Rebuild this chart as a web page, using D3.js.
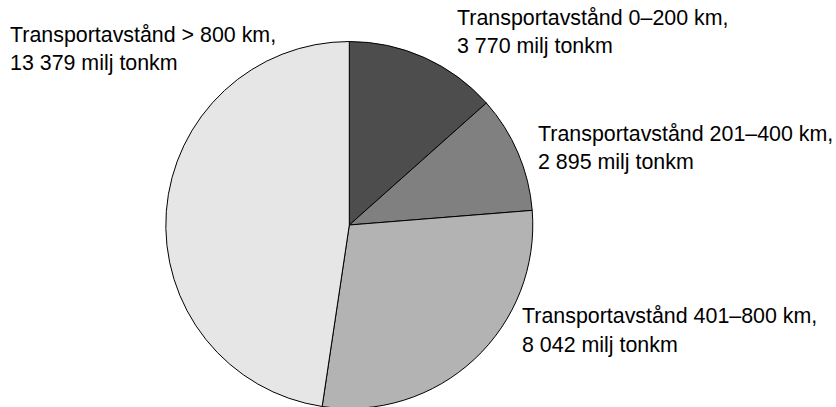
<!DOCTYPE html>
<html>
<head>
<meta charset="utf-8">
<script src="https://cdn.jsdelivr.net/npm/d3@7"></script>
<style>
  html, body { margin: 0; padding: 0; background: #fff; }
  svg { display: block; }
  text { font-family: "Liberation Sans", Arial, sans-serif; font-size: 21.4px; fill: #000; }
</style>
</head>
<body>
<svg id="chart" width="836" height="407"></svg>
<script>
const categories = ["Transportavstånd 0–200 km,", "Transportavstånd 201–400 km,", "Transportavstånd 401–800 km,", "Transportavstånd > 800 km,"];
const values = [3770, 2895, 8042, 13379];
const valueLabels = ["3 770 milj tonkm", "2 895 milj tonkm", "8 042 milj tonkm", "13 379 milj tonkm"];
const colors = ["#4d4d4d", "#808080", "#b3b3b3", "#e6e6e6"];

const svg = d3.select("#chart");
const cx = 349.3, cy = 225, r = 183.5;

const pie = d3.pie().sort(null).value(d => d)(values);
const arc = d3.arc().innerRadius(0).outerRadius(r);

const g = svg.append("g").attr("transform", `translate(${cx},${cy})`);
g.selectAll("path")
  .data(pie)
  .join("path")
  .attr("d", arc)
  .attr("fill", (d, i) => colors[i])
  .attr("stroke", "#000")
  .attr("stroke-width", 1)
  .attr("stroke-linejoin", "round");

// label anchor positions (left x, first baseline)
const labelPos = [[457, 24.5], [538, 140.5], [522, 323.3], [10, 41.7]];
const lineGap = 28.7;

const labels = svg.selectAll("g.lbl")
  .data(categories)
  .join("g")
  .attr("class", "lbl");
labels.append("text")
  .attr("x", (d, i) => labelPos[i][0])
  .attr("y", (d, i) => labelPos[i][1])
  .text(d => d);
labels.append("text")
  .attr("x", (d, i) => labelPos[i][0])
  .attr("y", (d, i) => labelPos[i][1] + lineGap)
  .text((d, i) => valueLabels[i]);
</script>
</body>
</html>
